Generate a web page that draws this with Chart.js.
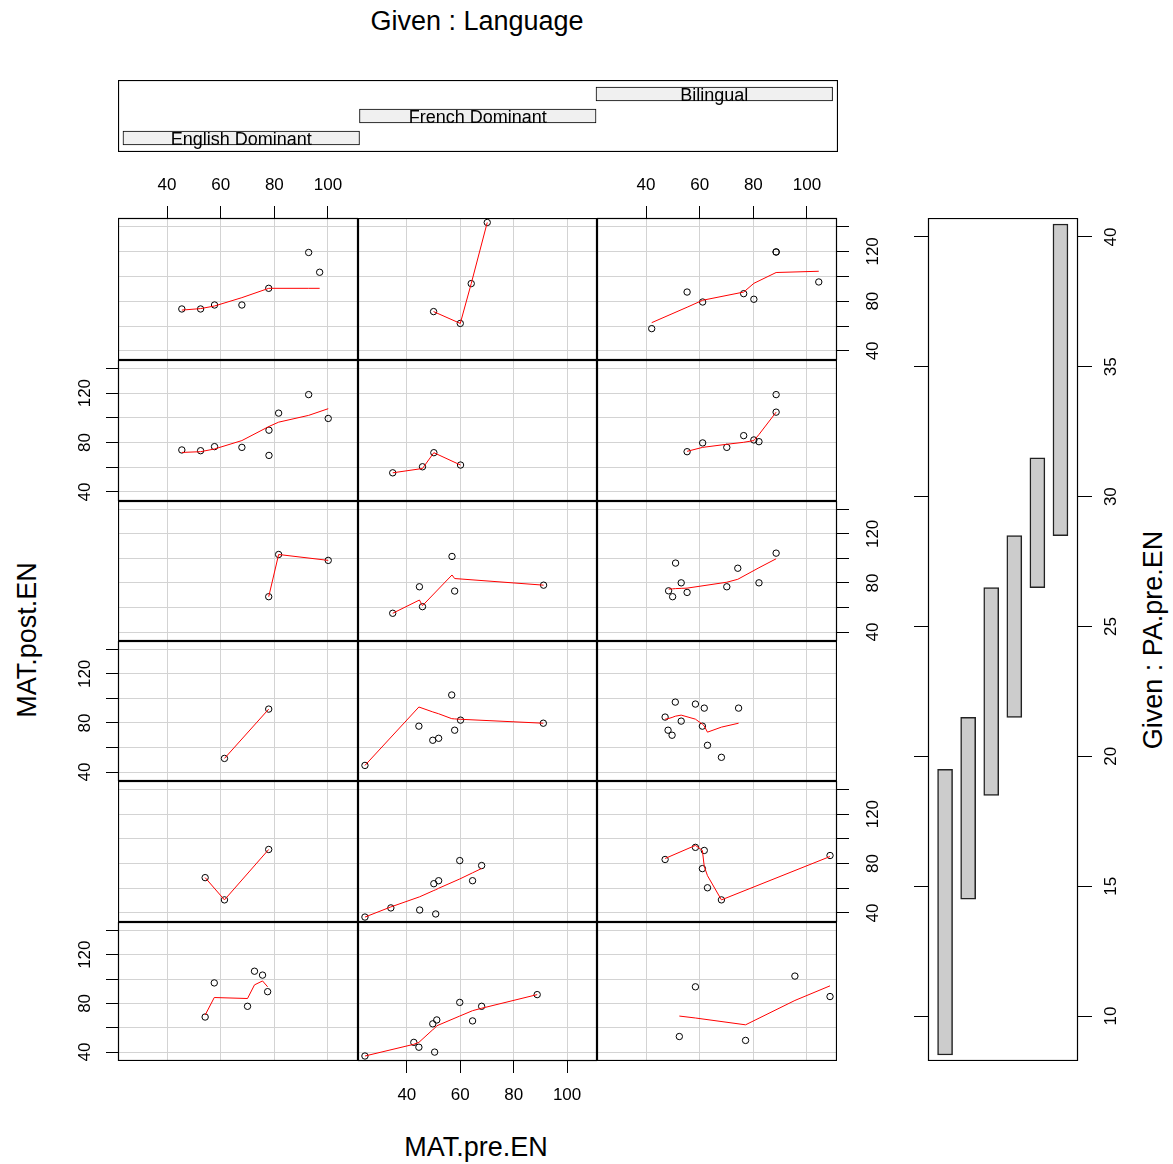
<!DOCTYPE html>
<html>
<head>
<meta charset="utf-8">
<title>coplot MAT.post.EN ~ MAT.pre.EN | PA.pre.EN * Language</title>
<script src="https://cdn.jsdelivr.net/npm/chart.js"></script>
<style>
  body { margin: 0; background: #fff; width: 1173px; height: 1164px; position: relative; overflow: hidden;
         font-family: 'Liberation Sans', Arial, sans-serif; }
  canvas { position: absolute; }
  .lbl { position: absolute; white-space: nowrap; color: #000; font-size: 27px; transform: translate(-50%, -50%); }
  .rot { transform: translate(-50%, -50%) rotate(-90deg); }
</style>
</head>
<body>
<div class="lbl" style="left:477px; top:21px">Given : Language</div>
<div class="lbl" style="left:476px; top:1147px">MAT.pre.EN</div>
<div class="lbl rot" style="left:27px; top:640px">MAT.post.EN</div>
<div class="lbl rot" style="left:1153px; top:640px">Given : PA.pre.EN</div>

<script>
// panels: rows top -> bottom (PA.pre.EN intervals high -> low), columns = language groups
const preEN = [
  [[45.5, 52.5, 57.7, 67.9, 77.9, 92.8, 96.9],
   [50.0, 60.0, 64.1, 70.1],
   [42.1, 55.3, 61.1, 76.4, 80.2, 88.5, 88.5, 104.4]],
  [[45.5, 52.5, 57.7, 67.9, 78.0, 78.0, 81.6, 92.8, 100.1],
   [34.7, 45.85, 50.1, 60.1],
   [55.3, 61.1, 70.1, 76.4, 80.2, 82.1, 88.5, 88.5]],
  [[77.9, 81.6, 100.1],
   [34.7, 44.7, 45.85, 56.9, 57.9, 91.2],
   [48.4, 49.9, 51.0, 53.1, 55.3, 70.1, 74.2, 82.1, 88.5]],
  [[61.4, 77.9],
   [24.3, 44.5, 49.7, 51.9, 56.8, 57.9, 60.1, 91.1],
   [47.1, 48.2, 49.7, 50.9, 53.1, 58.4, 61.0, 61.7, 62.9, 68.1, 74.5]],
  [[54.2, 61.4, 77.9],
   [24.3, 34.0, 44.8, 50.1, 50.8, 51.9, 59.8, 64.6, 68.0],
   [47.1, 58.4, 61.0, 61.7, 62.9, 68.1, 108.6]],
  [[54.2, 57.6, 70.0, 72.6, 75.6, 77.5],
   [24.3, 42.6, 44.5, 49.7, 50.4, 51.2, 59.8, 64.6, 68.0, 88.8],
   [52.4, 58.4, 77.1, 95.5, 108.6]]
];

const postEN = [
  [[73.7, 73.7, 76.9, 76.9, 90.3, 119.1, 103.2],
   [71.6, 62.1, 94.1, 143.2],
   [57.9, 87.3, 79.3, 86.0, 81.5, 119.5, 119.5, 95.4]],
  [[74.0, 73.4, 76.7, 76.1, 90.0, 69.6, 103.8, 118.8, 99.5],
   [55.5, 60.4, 71.8, 61.8],
   [72.6, 79.7, 76.1, 85.6, 82.1, 80.7, 118.8, 104.6]],
  [[68.8, 103.2, 98.4],
   [55.3, 76.9, 60.7, 101.6, 73.4, 78.2],
   [73.6, 68.8, 96.2, 80.1, 72.3, 76.9, 92.0, 80.1, 104.3]],
  [[51.1, 91.3],
   [45.4, 77.4, 65.9, 67.5, 102.8, 74.1, 82.3, 79.8],
   [84.8, 74.1, 70.0, 97.0, 81.5, 95.4, 77.4, 92.1, 61.8, 52.0, 92.1]],
  [[68.6, 50.6, 91.4],
   [36.7, 44.1, 42.4, 63.7, 39.2, 66.1, 82.4, 66.1, 78.4],
   [83.3, 93.1, 75.9, 90.6, 60.4, 50.6, 86.5]],
  [[68.8, 96.8, 77.6, 106.4, 103.2, 89.6],
   [36.8, 48.0, 44.0, 63.2, 40.0, 66.4, 80.8, 65.6, 77.6, 87.2],
   [52.8, 93.6, 49.6, 102.4, 85.6]]
];

// lowess smooth at each MAT.pre.EN value
const smoothEN = [
  [[72.8, 74.0, 76.1, 82.8, 90.3, 90.3, 90.3],
   [71.6, 62.1, 94.1, 143.2],
   [62.7, 75.1, 80.7, 87.3, 94.3, 103.0, 103.0, 104.0]],
  [[72.0, 72.6, 74.8, 81.6, 93.0, 93.0, 96.5, 102.0, 107.4],
   [55.5, 59.0, 71.8, 61.8],
   [72.9, 76.1, 78.6, 80.2, 81.6, 86.5, 104.6, 104.6]],
  [[68.8, 103.2, 98.4],
   [55.3, 66.1, 61.5, 86.5, 83.6, 78.2],
   [75.0, 75.2, 75.4, 75.6, 75.8, 80.6, 83.0, 92.4, 99.7]],
  [[51.1, 91.3],
   [45.4, 93.0, 89.0, 87.5, 83.5, 83.3, 83.0, 79.8],
   [83.1, 83.5, 84.5, 85.5, 86.4, 83.1, 79.0, 77.5, 72.5, 76.6, 79.8]],
  [[68.6, 50.6, 91.4],
   [36.7, 44.9, 53.1, 58.2, 58.8, 60.0, 67.5, 72.5, 76.0],
   [84.1, 94.7, 90.6, 77.6, 70.2, 50.6, 85.7]],
  [[70.4, 84.8, 84.0, 95.2, 98.4, 93.6],
   [36.8, 46.4, 48.0, 58.4, 59.6, 61.6, 69.6, 74.0, 76.0, 87.2],
   [69.6, 68.0, 62.4, 82.4, 94.4]]
];

const langLevels = ['English Dominant', 'French Dominant', 'Bilingual'];
const langRanges = [[0.5, 1.5], [1.5, 2.5], [2.5, 3.5]];
const paRanges = [[8.5, 19.5], [14.5, 21.5], [18.5, 26.5], [21.5, 28.5], [26.5, 31.5], [28.5, 40.5]];
const yLabelTicks = [40, 80, 120];

// layout
const xLim = [21.7, 111.2];
const yLim = [32.7, 146.8];
const colEdges = [118, 358, 597, 837];
const rowEdges = [218, 360, 501, 641, 781, 922, 1061];
const FONT = "'Liberation Sans', Arial, sans-serif";
const tickFont = { family: FONT, size: 17 };
const gridGrey = '#d3d3d3';

function addCanvas(x, y, w, h) {
  const c = document.createElement('canvas');
  c.width = w; c.height = h;
  c.style.left = x + 'px'; c.style.top = y + 'px';
  c.style.width = w + 'px'; c.style.height = h + 'px';
  document.body.appendChild(c);
  return c;
}

// force axis thickness so every plot region lines up with its neighbours
const fixSize = px => scale => {
  if (scale.isHorizontal()) scale.height = px; else scale.width = px;
  scale.paddingLeft = scale.paddingRight = scale.paddingTop = scale.paddingBottom = 0;
};

const frame = {
  id: 'frame',
  afterDraw(chart) {
    const { ctx, chartArea: a } = chart;
    ctx.save();
    ctx.strokeStyle = '#000';
    ctx.lineWidth = 1.2;
    ctx.strokeRect(a.left + 0.5, a.top + 0.5, a.right - a.left - 1, a.bottom - a.top - 1);
    ctx.restore();
  }
};

const baseOpts = {
  responsive: false,
  animation: false,
  events: [],
  layout: { padding: 0, autoPadding: false },
  plugins: { legend: { display: false }, tooltip: { enabled: false } }
};

function panel(r, c) {
  const topAxis = r === 0 && c !== 1;
  const bottomAxis = r === 5 && c === 1;
  const leftAxis = c === 0 && r % 2 === 1;
  const rightAxis = c === 2 && r % 2 === 0;
  const mT = topAxis ? 48 : 0, mB = bottomAxis ? 55 : 0;
  const mL = leftAxis ? 50 : 0, mR = rightAxis ? 55 : 0;
  const x0 = colEdges[c], x1 = colEdges[c + 1], y0 = rowEdges[r], y1 = rowEdges[r + 1];
  const canvas = addCanvas(x0 - mL, y0 - mT, x1 - x0 + mL + mR, y1 - y0 + mT + mB);

  const pre = preEN[r][c];
  const pts = pre.map((v, i) => ({ x: v, y: postEN[r][c][i] }));
  const fit = pre.map((v, i) => ({ x: v, y: smoothEN[r][c][i] })).sort((a, b) => a.x - b.x);
  const xAxis = topAxis || bottomAxis;
  const yAxis = leftAxis || rightAxis;

  new Chart(canvas, {
    type: 'scatter',
    data: {
      datasets: [
        { data: fit, showLine: true, borderColor: '#ff0000', borderWidth: 1, pointRadius: 0, tension: 0 },
        { data: pts, pointRadius: 3.2, pointBorderWidth: 1, borderColor: '#000', backgroundColor: 'rgba(0,0,0,0)' }
      ]
    },
    options: {
      ...baseOpts,
      scales: {
        x: {
          type: 'linear', position: bottomAxis ? 'bottom' : 'top',
          min: xLim[0], max: xLim[1],
          ticks: { display: xAxis, stepSize: 20, includeBounds: false, autoSkip: false, maxRotation: 0,
                   font: tickFont, color: '#000', padding: topAxis ? 10 : 12 },
          grid: { color: gridGrey, lineWidth: 1, drawTicks: xAxis, tickLength: 12, tickColor: '#000' },
          border: { display: false },
          afterFit: fixSize(topAxis ? mT : mB)
        },
        y: {
          type: 'linear', position: rightAxis ? 'right' : 'left',
          min: yLim[0], max: yLim[1],
          ticks: { display: yAxis, stepSize: 20, includeBounds: false, autoSkip: false,
                   minRotation: 90, maxRotation: 90, crossAlign: 'center',
                   font: tickFont, color: '#000', padding: leftAxis ? 7 : 10,
                   callback: v => yLabelTicks.includes(v) ? String(v) : '' },
          grid: { color: gridGrey, lineWidth: 1, drawTicks: yAxis, tickLength: 12, tickColor: '#000' },
          border: { display: false },
          afterFit: fixSize(leftAxis ? mL : mR)
        }
      }
    },
    plugins: [frame]
  });
}

for (let r = 0; r < 6; r++) for (let c = 0; c < 3; c++) panel(r, c);

// conditioning panel for Language
const levelText = {
  id: 'levelText',
  afterDatasetsDraw(chart) {
    const ctx = chart.ctx;
    ctx.save();
    ctx.font = '18px ' + FONT;
    ctx.fillStyle = '#000';
    ctx.textAlign = 'center';
    ctx.textBaseline = 'middle';
    chart.getDatasetMeta(0).data.forEach((bar, i) => {
      ctx.fillText(langLevels[i], (bar.x + bar.base) / 2, bar.y + 2);
    });
    ctx.restore();
  }
};

new Chart(addCanvas(118, 80, 720, 72), {
  type: 'bar',
  data: {
    datasets: [{
      data: langRanges.map((rg, i) => ({ x: rg, y: i + 1 })),
      backgroundColor: '#f0f0f0', borderColor: '#000', borderWidth: 1,
      borderSkipped: false, barThickness: 14
    }]
  },
  options: {
    ...baseOpts,
    indexAxis: 'y',
    scales: {
      x: { type: 'linear', min: 0.479, max: 3.523, display: false },
      y: { type: 'linear', min: 0.364, max: 3.636, display: false, offset: false }
    }
  },
  plugins: [frame, levelText]
});

// conditioning panel for PA.pre.EN
new Chart(addCanvas(900, 218, 240, 843), {
  type: 'bar',
  data: {
    datasets: [{
      data: paRanges.map((rg, i) => ({ x: i + 1, y: rg })),
      backgroundColor: '#cccccc', borderColor: '#222', borderWidth: 1.5,
      borderSkipped: false, barThickness: 15
    }]
  },
  options: {
    ...baseOpts,
    scales: {
      x: { type: 'linear', min: 0.26, max: 6.76, display: false, offset: false },
      y: {
        type: 'linear', position: 'right', min: 8.27, max: 40.73,
        ticks: { stepSize: 5, includeBounds: false, autoSkip: false, minRotation: 90, maxRotation: 90,
                 crossAlign: 'center', font: tickFont, color: '#000', padding: 10 },
        grid: { drawOnChartArea: false, drawTicks: true, tickLength: 14, tickColor: '#000' },
        border: { display: false },
        afterFit: fixSize(62)
      },
      yLeft: {
        type: 'linear', position: 'left', min: 8.27, max: 40.73,
        ticks: { display: false, stepSize: 5, includeBounds: false },
        grid: { drawOnChartArea: false, drawTicks: true, tickLength: 14, tickColor: '#000' },
        border: { display: false },
        afterFit: fixSize(28)
      }
    }
  },
  plugins: [frame]
});
</script>
</body>
</html>
